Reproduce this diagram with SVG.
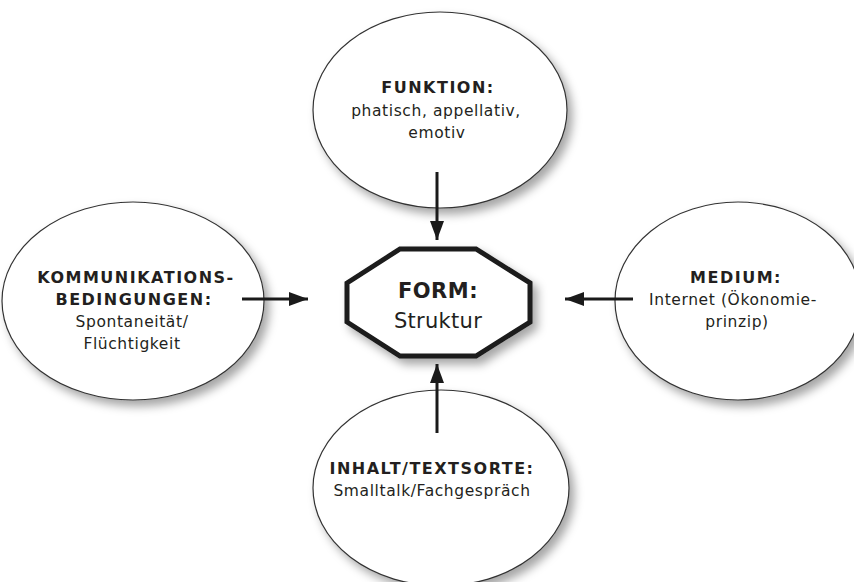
<svg xmlns="http://www.w3.org/2000/svg" width="854" height="582" viewBox="0 0 854 582">
<defs>
<filter id="sh" x="-20%" y="-20%" width="150%" height="150%">
<feDropShadow dx="5" dy="6" stdDeviation="5" flood-color="#000" flood-opacity="0.35"/>
</filter>
<marker id="ah" markerUnits="userSpaceOnUse" markerWidth="20" markerHeight="14" refX="19" refY="7" orient="auto">
<path d="M0,0 L19,7 L0,14 Z" fill="#1a1a1a"/>
</marker>
</defs>
<style>
.bub{fill:#fff;stroke:#333;stroke-width:1.2;filter:url(#sh)}
.oct{fill:#fff;stroke:#1a1a1a;stroke-width:5;stroke-linejoin:miter;filter:url(#sh)}
text{font-family:"DejaVu Sans","Liberation Sans",sans-serif;fill:#231f20;text-anchor:middle}
.h{font-weight:bold;font-size:16px;letter-spacing:1.5px}
.t{font-size:15.5px;letter-spacing:0.6px}
.H{font-weight:bold;font-size:21px;letter-spacing:0.5px}
.T{font-size:21px;letter-spacing:0.3px}
.c{stroke:#1a1a1a;stroke-width:3;fill:none;marker-end:url(#ah)}
</style>
<g id="funktion">
<ellipse class="bub" cx="440" cy="110" rx="127" ry="98"/>
<text class="h" x="438" y="93">FUNKTION:</text>
<text class="t" x="436" y="116">phatisch, appellativ,</text>
<text class="t" x="437" y="138">emotiv</text>
</g>
<g id="kommunikation">
<ellipse class="bub" cx="133" cy="301" rx="131" ry="99"/>
<text class="h" x="136" y="283">KOMMUNIKATIONS-</text>
<text class="h" x="134" y="305">BEDINGUNGEN:</text>
<text class="t" x="132" y="327">Spontaneität/</text>
<text class="t" x="132" y="349">Flüchtigkeit</text>
</g>
<g id="medium">
<ellipse class="bub" cx="738" cy="301" rx="123" ry="99"/>
<text class="h" x="736" y="283">MEDIUM:</text>
<text class="t" x="733" y="305">Internet (Ökonomie-</text>
<text class="t" x="737" y="327">prinzip)</text>
</g>
<g id="inhalt">
<ellipse class="bub" cx="441" cy="488" rx="128" ry="98"/>
<text class="h" x="432" y="474">INHALT/TEXTSORTE:</text>
<text class="t" x="432" y="496">Smalltalk/Fachgespräch</text>
</g>
<g id="form">
<polygon class="oct" points="400,249 476,249 530,283 530,322 476,356 400,356 347,322 347,283"/>
<text class="H" x="438" y="298">FORM:</text>
<text class="T" x="438" y="328">Struktur</text>
</g>
<g id="connectors">
<line class="c" x1="437" y1="172" x2="437" y2="240"/>
<line class="c" x1="437" y1="433" x2="437" y2="364"/>
<line class="c" x1="242" y1="299" x2="308" y2="299"/>
<line class="c" x1="633" y1="299" x2="565" y2="299"/>
</g>
</svg>
